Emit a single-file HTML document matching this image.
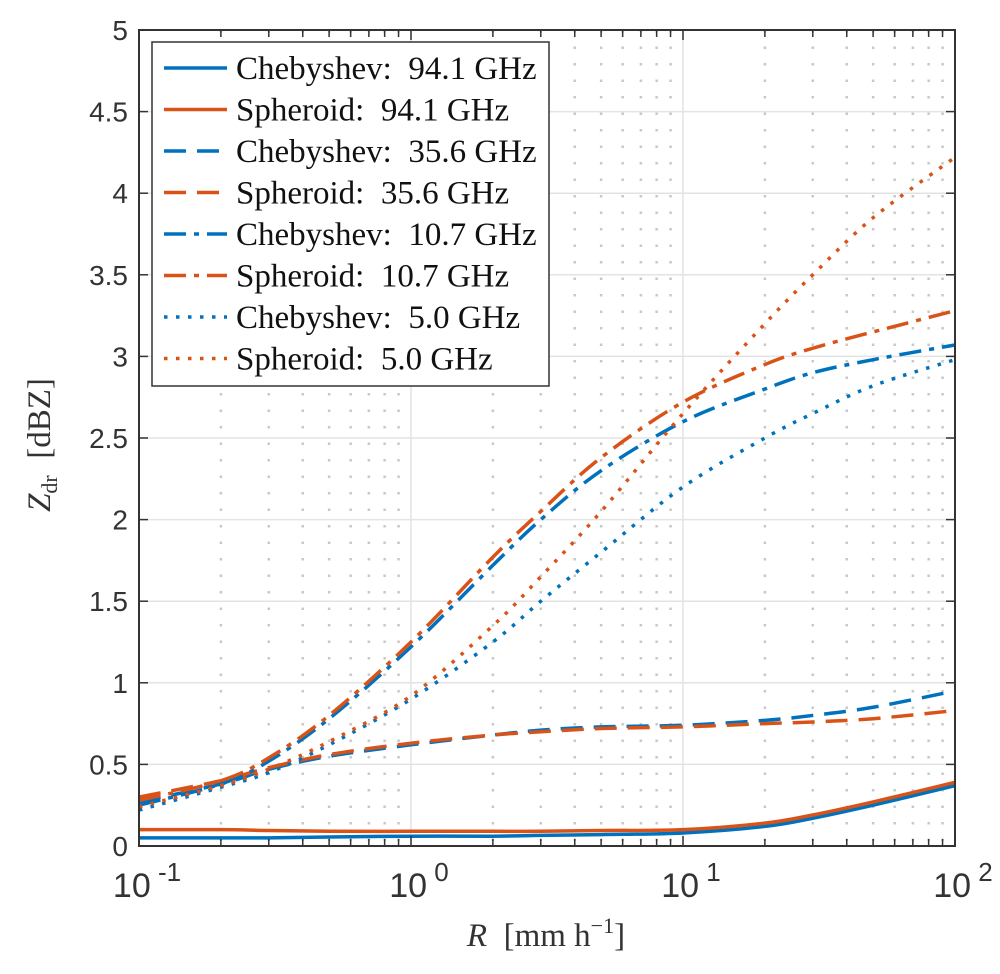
<!DOCTYPE html>
<html><head><meta charset="utf-8"><style>
body{margin:0;background:#fff;}
svg{display:block;}
text{white-space:pre;}
</style></head><body>
<svg id="chart" width="1000" height="974" xmlns="http://www.w3.org/2000/svg">
<rect x="0" y="0" width="1000" height="974" fill="#fff"/>
<g id="grid"></g>
<g id="series"></g>
<g id="axes"></g>
<text x="546" y="946" font-family="Liberation Serif, serif" font-size="33" text-anchor="middle" fill="#333"><tspan font-style="italic">R</tspan>  [mm h<tspan dy="-13" font-size="22">−1</tspan><tspan dy="13">]</tspan></text>
<text transform="translate(50,445) rotate(-90)" font-family="Liberation Serif, serif" font-size="33" text-anchor="middle" fill="#333"><tspan font-style="italic">Z</tspan><tspan dy="7" font-size="22">dr</tspan><tspan dy="-7">  [dBZ]</tspan></text>
<g id="legend"></g>
</svg>
<script>
const xVals=[0.1,0.2,0.3,0.5,1,2,3,5,10,20,30,50,100];
const cheb94=[0.05,0.05,0.05,0.055,0.06,0.06,0.065,0.07,0.08,0.12,0.17,0.25,0.37];
const sph94=[0.10,0.10,0.095,0.09,0.09,0.09,0.09,0.095,0.10,0.14,0.19,0.27,0.39];
const cheb35=[0.27,0.38,0.47,0.55,0.62,0.68,0.71,0.73,0.74,0.77,0.80,0.85,0.95];
const sph35=[0.30,0.40,0.48,0.56,0.63,0.68,0.70,0.72,0.73,0.75,0.76,0.78,0.83];
const cheb10=[0.25,0.38,0.52,0.78,1.22,1.72,2.0,2.3,2.6,2.8,2.9,2.98,3.07];
const sph10=[0.28,0.40,0.54,0.80,1.25,1.77,2.05,2.38,2.72,2.95,3.05,3.15,3.28];
const cheb5=[0.22,0.36,0.45,0.62,0.90,1.25,1.5,1.8,2.2,2.5,2.65,2.82,2.98];
const sph5=[0.24,0.37,0.47,0.64,0.92,1.35,1.65,2.05,2.65,3.2,3.5,3.85,4.22];
const yTicks=[0,0.5,1,1.5,2,2.5,3,3.5,4,4.5,5];
const yTickLabels=["0","0.5","1","1.5","2","2.5","3","3.5","4","4.5","5"];
const xDecades=[-1,0,1,2];

const L=139,R=955,T=30,B=846;
const NS="http://www.w3.org/2000/svg";
function xs(v){return L+(Math.log10(v)+1)/3*(R-L);}
function ys(v){return B-v/5*(B-T);}
function mk(tag,attrs,parent){const e=document.createElementNS(NS,tag);for(const k in attrs)e.setAttribute(k,attrs[k]);parent.appendChild(e);return e;}
const grid=document.getElementById('grid'),axes=document.getElementById('axes'),ser=document.getElementById('series'),leg=document.getElementById('legend');
for(const t of yTicks){const g=mk('line',{x1:L,x2:R,y1:ys(t),y2:ys(t),stroke:'#e3e3e3','stroke-width':1.5},grid);

}
for(let d=-1;d<2;d++){for(let m=1;m<10;m++){const v=m*Math.pow(10,d);const x=xs(v);
const g=mk('line',{x1:x,x2:x,y1:T,y2:B,stroke:m==1?'#e3e3e3':'#c8c8c8','stroke-width':m==1?1.5:2.5,'stroke-dasharray':m==1?'':'2.5 14'},grid);


if(m>1){mk('line',{x1:x,x2:x,y1:B,y2:B-7,stroke:'#333','stroke-width':1.5},axes);mk('line',{x1:x,x2:x,y1:T,y2:T+7,stroke:'#333','stroke-width':1.5},axes);}
}}
function path(arr){const p=xVals.map((v,i)=>[xs(v),ys(arr[i])]);let d='M'+p[0][0]+','+p[0][1];
for(let i=0;i<p.length-1;i++){const p0=p[i-1]||p[i],p1=p[i],p2=p[i+1],p3=p[i+2]||p[i+1];
d+=' C'+(p1[0]+(p2[0]-p0[0])/6)+','+(p1[1]+(p2[1]-p0[1])/6)+' '+(p2[0]-(p3[0]-p1[0])/6)+','+(p2[1]-(p3[1]-p1[1])/6)+' '+p2[0]+','+p2[1];}
return d;}
const BLUE='#0072bd',ORG='#d95319';
const dashes={solid:'',dash:'22 11',dashdot:'22 8 5 8',dot:'3.5 8.5'};
const series=[
['chebyshev-94',cheb94,BLUE,'solid','Chebyshev:  94.1 GHz'],
['spheroid-94',sph94,ORG,'solid','Spheroid:  94.1 GHz'],
['chebyshev-35',cheb35,BLUE,'dash','Chebyshev:  35.6 GHz'],
['spheroid-35',sph35,ORG,'dash','Spheroid:  35.6 GHz'],
['chebyshev-10',cheb10,BLUE,'dashdot','Chebyshev:  10.7 GHz'],
['spheroid-10',sph10,ORG,'dashdot','Spheroid:  10.7 GHz'],
['chebyshev-5',cheb5,BLUE,'dot','Chebyshev:  5.0 GHz'],
['spheroid-5',sph5,ORG,'dot','Spheroid:  5.0 GHz']];
for(const s of series){const e=mk('path',{d:path(s[1]),fill:'none',stroke:s[2],'stroke-width':3.5,'stroke-dasharray':dashes[s[3]]},ser);

}
mk('rect',{x:L,y:T,width:R-L,height:B-T,fill:'none',stroke:'#333','stroke-width':2},axes);
yTicks.forEach((t,i)=>{mk('line',{x1:L,x2:L+9,y1:ys(t),y2:ys(t),stroke:'#333','stroke-width':1.5},axes);mk('line',{x1:R,x2:R-9,y1:ys(t),y2:ys(t),stroke:'#333','stroke-width':1.5},axes);
const tx=mk('text',{x:L-11,y:ys(t)+10,'text-anchor':'end','font-family':'Liberation Sans, sans-serif','font-size':28,fill:'#333'},axes);tx.textContent=yTickLabels[i];

});
for(const d of xDecades){const x=xs(Math.pow(10,d));mk('line',{x1:x,x2:x,y1:B,y2:B-10,stroke:'#333','stroke-width':1.5},axes);mk('line',{x1:x,x2:x,y1:T,y2:T+10,stroke:'#333','stroke-width':1.5},axes);
const tx=mk('text',{x:x+8,y:B+51,'text-anchor':'middle','font-family':'Liberation Sans, sans-serif','font-size':34,fill:'#333'},axes);
tx.innerHTML='10<tspan dy="-16" font-size="26"> '+(d<0?'-1':d)+'</tspan>';

}
const box=mk('rect',{x:152,y:42,width:397,height:344,fill:'#fff',stroke:'#333','stroke-width':1.5},leg);


series.forEach((s,i)=>{const y=68+i*41.5;
mk('line',{x1:164,x2:227,y1:y,y2:y,stroke:s[2],'stroke-width':3.5,'stroke-dasharray':dashes[s[3]]},leg);
const t=mk('text',{x:236,y:y+11,'font-family':'Liberation Serif, serif','font-size':33,fill:'#111'},leg);
t.textContent=s[4];

});
</script>
</body></html>
